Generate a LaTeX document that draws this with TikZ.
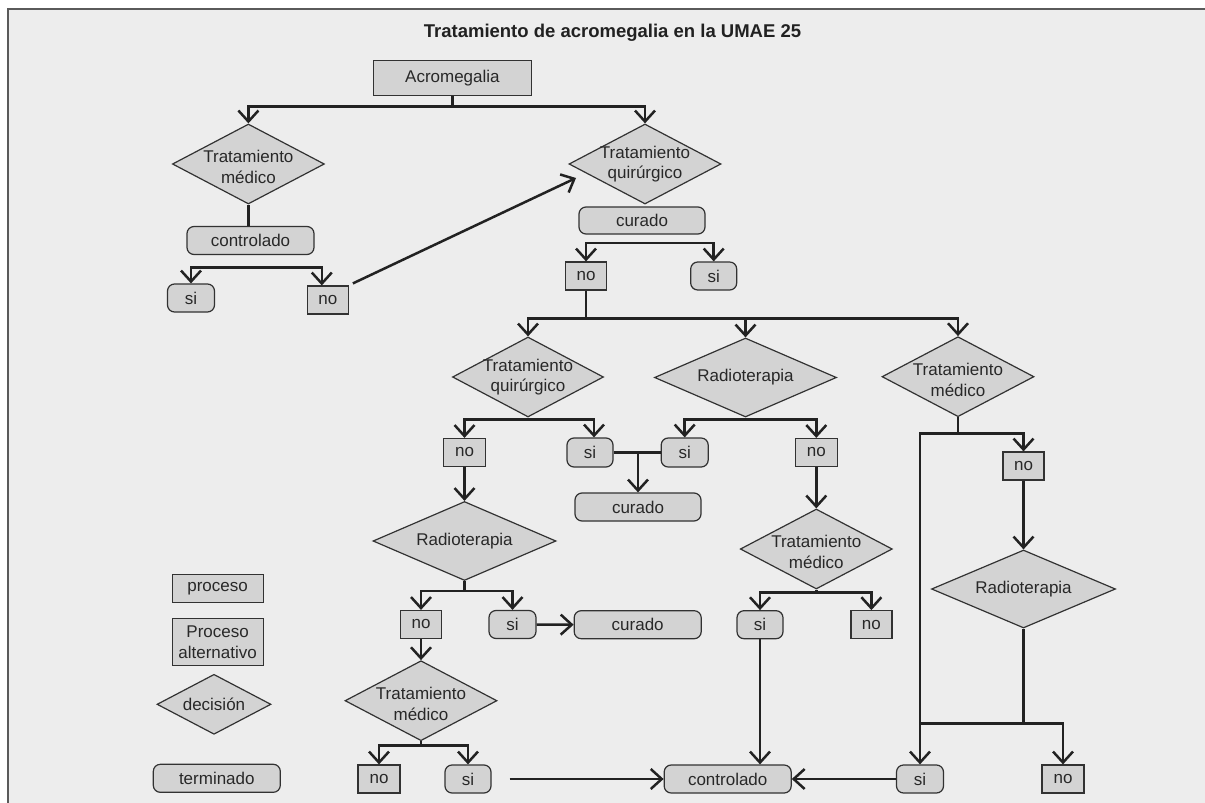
\documentclass[tikz,border=0pt]{standalone}
\usepackage{fontspec}
\setmainfont{Liberation Sans}
\usetikzlibrary{shapes.geometric,arrows.meta}
\definecolor{bgc}{RGB}{237,237,237}
\definecolor{nfill}{RGB}{211,211,211}
\definecolor{nbord}{RGB}{50,50,50}
\definecolor{lnc}{RGB}{34,34,34}
\definecolor{framec}{RGB}{90,90,90}
\definecolor{txt}{RGB}{40,40,40}
\begin{document}
\begin{tikzpicture}[x=1pt,y=-1pt,
  base/.style={draw=nbord, fill=nfill, line width=1.2pt, text=txt,
    font=\fontsize{17}{20.5}\selectfont, inner sep=0pt, align=center},
  proc/.style={base, rectangle},
  term/.style={base, rectangle, rounded corners=7pt},
  dec/.style={base, diamond},
  txtlab/.style={text=txt, font=\fontsize{17}{20.5}\selectfont, align=center, inner sep=0pt},
  medlab/.style={txtlab, yshift=-3pt},
  sz/.style 2 args={minimum width=#1pt, minimum height=#2pt},
  ln/.style={draw=lnc, line width=2.5pt},
  arr/.style={ln, -{Straight Barb[length=11pt,width=20pt]}}
  ]
\useasboundingbox (0,0) rectangle (1205,803);
\fill[white] (0,0) rectangle (1205,803);
\draw[framec, line width=1.5pt, fill=bgc] (8,9) rectangle (1240,840);

\node[font=\bfseries\fontsize{18.5}{22}\selectfont, text=black!87, anchor=base] (title) at (612.5,37.3) {Tratamiento de acromegalia en la UMAE 25};

% top level
\node[proc, sz={158}{35}] (acro) at (452.4,78) {Acromegalia};
\node[dec, sz={152}{80}, label={[medlab]center:Tratamiento\\médico}] (tm1) at (248.4,164) {};
\node[term, sz={127}{28}] (ctl1) at (250.5,240.5) {controlado};
\node[term, sz={47}{28}] (si1) at (191,298) {si};
\node[proc, sz={41}{28}] (no1) at (327.8,300) {no};
\node[dec, sz={152}{80}, label={[txtlab]center:Tratamiento\\quirúrgico}] (tq1) at (645,164) {};
\node[term, sz={126}{27}] (cur1) at (642,220.5) {curado};
\node[proc, sz={41}{28}] (no2) at (586,276) {no};
\node[term, sz={46}{28}] (si2) at (713.7,276) {si};

% second level
\node[dec, sz={151}{80}, label={[txtlab]center:Tratamiento\\quirúrgico}] (tq2) at (528,377) {};
\node[dec, sz={182}{79}, label={[txtlab]center:Radioterapia}] (rad2) at (745.5,377.5) {};
\node[dec, sz={152}{80}, label={[medlab]center:Tratamiento\\médico}] (tm2) at (958,376.7) {};
\node[proc, sz={42}{28}] (no3) at (464.5,452.5) {no};
\node[term, sz={46}{29}] (si3) at (590,452.5) {si};
\node[term, sz={47}{29}] (si4) at (684.7,452.5) {si};
\node[proc, sz={42}{28}] (no4) at (816.3,452.5) {no};
\node[term, sz={126}{28}] (cur2) at (638,507) {curado};
\node[dec, sz={183}{79}, label={[txtlab]center:Radioterapia}] (rad3) at (464.5,541) {};
\node[dec, sz={152}{80}, label={[medlab]center:Tratamiento\\médico}] (tm3) at (816.3,549) {};
\node[proc, sz={41}{28}] (no5) at (1023.5,466) {no};
\node[dec, sz={184}{78}, label={[txtlab]center:Radioterapia}] (rad4) at (1023.5,589) {};
\node[proc, sz={41}{28}] (no8) at (421,624.5) {no};
\node[term, sz={47}{28}] (si7) at (512.5,624.5) {si};
\node[term, sz={127}{28}] (cur3) at (637.7,624.7) {curado};
\node[term, sz={46}{28}] (si5) at (760,624.7) {si};
\node[proc, sz={41}{28}] (no6) at (871.4,624.7) {no};
\node[dec, sz={152}{80}, label={[medlab]center:Tratamiento\\médico}] (tm4) at (421,700.7) {};
\node[proc, sz={42}{28}] (no9) at (379,779) {no};
\node[term, sz={46}{28}] (si8) at (468,779) {si};
\node[term, sz={127}{28}] (ctl2) at (727.7,779) {controlado};
\node[term, sz={47}{28}] (si6) at (920,779) {si};
\node[proc, sz={42}{28}] (no7) at (1063,779) {no};

% legend
\node[proc, sz={91}{28}] (lproc) at (217.6,588.3) {proceso};
\node[proc, sz={91}{47}] (lalt) at (217.6,642.3) {Proceso\\alternativo};
\node[dec, sz={114}{60}, label={[txtlab]center:decisión}] (ldec) at (214,704.3) {};
\node[term, sz={127}{28}] (lterm) at (216.8,778.3) {terminado};

% connectors
\draw[ln] (acro.south) -- ++(0,10.5) coordinate (j1);
\draw[arr] (j1) -| (tm1.north);
\draw[arr] (j1) -| (tq1.north);
\draw[ln] (tm1.south) -- (ctl1.north -| tm1.south);
\coordinate (b1) at (250,267.3);
\draw[arr] (b1) -| (si1.north);
\draw[arr] (b1) -| ([xshift=-6pt]no1.north);
\coordinate (t1) at (576,178);
\draw[arr] ([xshift=4pt,yshift=2pt]no1.north east) -- (t1);
\coordinate (b2) at (642,243);
\draw[arr] (b2) -| (no2.north);
\draw[arr] (b2) -| (si2.north);
\draw[ln] (no2.south) -- ++(0,28) coordinate (b3);
\draw[arr] (b3) -| (tq2.north);
\draw[arr] (b3) -| (rad2.north);
\draw[arr] (b3) -| (tm2.north);
\draw[ln] (tq2.south) -- ++(0,2) coordinate (b4);
\draw[arr] (b4) -| (no3.north);
\draw[arr] (b4) -| ([xshift=4pt]si3.north);
\draw[ln] (rad2.south) -- ++(0,2) coordinate (b5);
\draw[arr] (b5) -| (si4.north);
\draw[arr] (b5) -| (no4.north);
\draw[ln] (si3.east) -- (si4.west);
\draw[arr] (cur2.north |- si3.east) -- (cur2.north);
\draw[arr] (no3.south) -- (rad3.north);
\draw[arr] (no4.south) -- (tm3.north);
\draw[ln] (tm2.south) -- ++(0,16) coordinate (b6);
\draw[arr] (b6) -| (no5.north);
\draw[arr] (b6) -| (si6.north);
\draw[arr] (no5.south) -- (rad4.north);
\draw[ln] (rad4.south) -- ++(0,95) coordinate (b7);
\draw[arr] (b7) -| (no7.north);
\draw[ln] (b7) -- (b7 -| si6.north);
\draw[ln] (tm3.south) -- ++(0,2.7) coordinate (b8);
\draw[arr] (b8) -| (si5.north);
\draw[arr] (b8) -| (no6.north);
\draw[arr] (si5.south) -- (ctl2.north -| si5.south);
\draw[arr] (si6.west) -- (ctl2.east);
\draw[ln] (rad3.south) -- ++(0,10) coordinate (b9);
\draw[arr] (b9) -| (no8.north);
\draw[arr] (b9) -| (si7.north);
\draw[arr] (si7.east) -- (cur3.west);
\draw[arr] (no8.south) -- (tm4.north);
\draw[ln] (tm4.south) -- ++(0,4.3) coordinate (b10);
\draw[arr] (b10) -| (no9.north);
\draw[arr] (b10) -| (si8.north);
\draw[arr, shorten <=18pt] (si8.east) -- (ctl2.west);
\end{tikzpicture}
\end{document}
